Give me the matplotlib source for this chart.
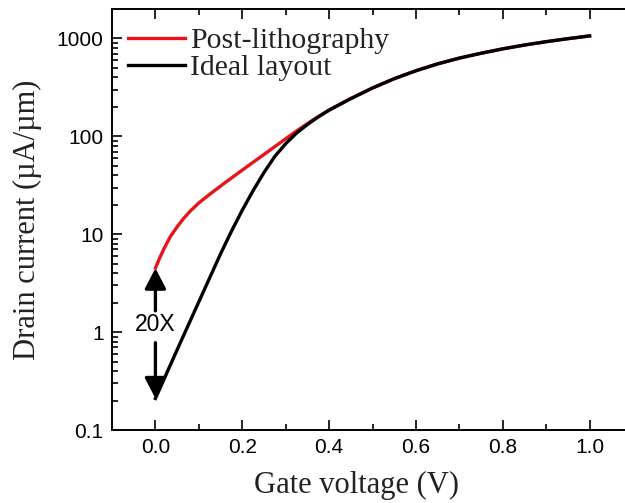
import matplotlib
matplotlib.use("Agg")
import matplotlib.pyplot as plt
from matplotlib.ticker import LogLocator, MultipleLocator, NullFormatter

# Transfer curves, gate voltage (V) vs drain current (uA/um)
v_post = [0.0, 0.01, 0.02, 0.035, 0.05, 0.065, 0.08, 0.10, 0.13, 0.16,
          0.20, 0.25, 0.30, 0.33, 0.36, 0.40, 0.45, 0.50, 0.55, 0.60,
          0.65, 0.70, 0.75, 0.80, 0.85, 0.90, 0.95, 1.00]
i_post = [4.5, 5.75, 7.16, 9.55, 11.9, 14.5, 17.2, 20.9, 26.6, 33.5,
          45.2, 65.3, 94.4, 117.5, 144.5, 186, 243, 312, 388, 468,
          550, 630, 706, 783, 857, 927, 995, 1062]

v_ideal = [0.0, 0.05, 0.10, 0.15, 0.175, 0.20, 0.225, 0.25, 0.275, 0.30,
           0.325, 0.35, 0.375, 0.40, 0.45, 0.50, 0.55, 0.60, 0.65, 0.70,
           0.75, 0.80, 0.85, 0.90, 0.95, 1.00]
i_ideal = [0.21, 0.66, 2.04, 6.3, 10.7, 17.6, 27.9, 42.7, 62.4, 84.1,
           108, 132, 158, 185, 243, 312, 388, 468, 550, 630,
           706, 783, 857, 927, 995, 1062]

x_ticks = [0.0, 0.2, 0.4, 0.6, 0.8, 1.0]
y_ticks = [0.1, 1, 10, 100, 1000]
y_labels = ["0.1", "1", "10", "100", "1000"]

serif = ["Liberation Serif", "DejaVu Serif"]
sans = ["Liberation Sans", "DejaVu Sans"]


def main():
    fig = plt.figure(figsize=(6.25, 5.03), dpi=100)
    ax = fig.add_axes([112 / 625, 73 / 503, 521 / 625, 421 / 503])

    ax.plot(v_post, i_post, color="#e8141c", lw=2.4, label="Post-lithography")
    ax.plot(v_ideal, i_ideal, color="black", lw=2.4, label="Ideal layout")

    ax.set_yscale("log")
    ax.set_xlim(-0.1, 1.1)
    ax.set_ylim(0.1, 2000)

    ax.set_xticks(x_ticks)
    ax.set_xticklabels([f"{t:.1f}" for t in x_ticks], family=sans, fontsize=15)
    ax.xaxis.set_minor_locator(MultipleLocator(0.1))
    ax.set_yticks(y_ticks)
    ax.set_yticklabels(y_labels, family=sans, fontsize=15)
    ax.yaxis.set_minor_locator(LogLocator(base=10, subs=range(2, 10)))
    ax.yaxis.set_minor_formatter(NullFormatter())

    ax.tick_params(which="both", direction="in", top=True, width=1.2)
    ax.tick_params(which="major", length=7, pad=6)
    ax.tick_params(which="minor", length=4)
    for s in ax.spines.values():
        s.set_linewidth(1.4)
    ax.spines["right"].set_visible(False)

    ax.set_xlabel("Gate voltage (V)", family=serif, fontsize=22,
                  color="#222222", labelpad=10)
    ax.xaxis.label.set_x(0.47)
    ax.set_ylabel("Drain current (\u00b5A/\u00b5m)", family=serif, fontsize=22,
                  color="#222222", labelpad=11)

    # 20X gap between the two curves at zero gate bias
    ax.text(0.0, 1.2, "20X", family=sans, fontsize=16.5, ha="center", va="center")
    arrow = dict(arrowstyle="-|>,head_length=1.25,head_width=0.65",
                 color="black", lw=2.4, shrinkA=0, shrinkB=0)
    ax.annotate("", xy=(0.0, i_post[0]), xytext=(0.0, 1.65), arrowprops=arrow)
    ax.annotate("", xy=(0.0, i_ideal[0]), xytext=(0.0, 0.78), arrowprops=arrow)

    leg = ax.legend(loc="upper left", bbox_to_anchor=(0.0, 0.995), frameon=False,
                    prop={"family": serif, "size": 21.5}, handlelength=1.9,
                    handletextpad=0.15, labelspacing=0.0, borderaxespad=0.25,
                    borderpad=0.3)
    for t in leg.get_texts():
        t.set_color("#222222")

    fig.savefig("out.png", dpi=100)


if __name__ == "__main__":
    main()
